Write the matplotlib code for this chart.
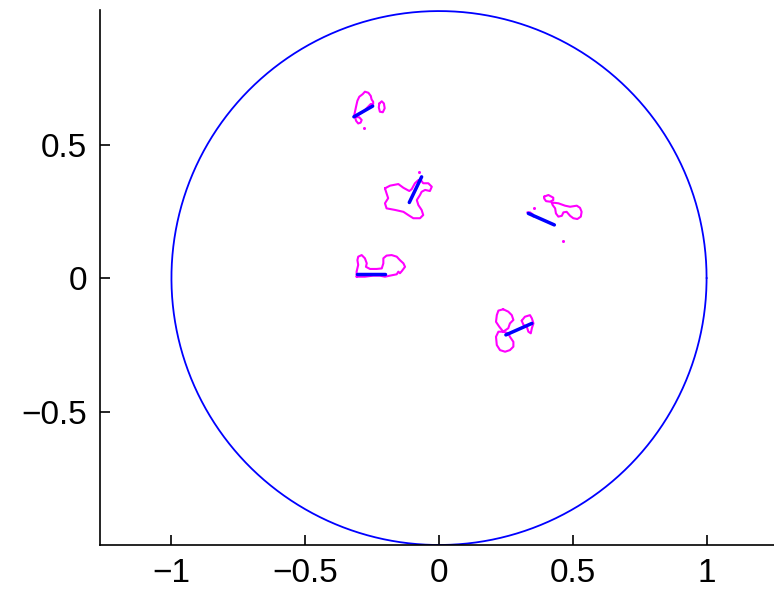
import matplotlib
matplotlib.use("Agg")
import matplotlib.pyplot as plt
import numpy as np

# Unit circle
circle_radius = 1.0

# Magenta contour curves (data coordinates)
contour_1a_x = [-0.318, -0.314, -0.310, -0.305, -0.298, -0.285, -0.277, -0.264, -0.255, -0.252, -0.246, -0.246, -0.255, -0.283, -0.314, -0.310, -0.302, -0.293, -0.289, -0.298, -0.314]
contour_1a_y = [0.604, 0.623, 0.642, 0.664, 0.679, 0.689, 0.698, 0.694, 0.682, 0.669, 0.660, 0.652, 0.652, 0.623, 0.604, 0.589, 0.579, 0.582, 0.592, 0.602, 0.604]
contour_1b_x = [-0.223, -0.214, -0.206, -0.203, -0.210, -0.221, -0.225, -0.223]
contour_1b_y = [0.654, 0.662, 0.654, 0.636, 0.621, 0.623, 0.639, 0.654]

contour_2_x = [-0.202, -0.183, -0.152, -0.133, -0.111, -0.102, -0.090, -0.077, -0.068, -0.059, -0.040, -0.027, -0.034, -0.052, -0.065, -0.071, -0.083, -0.077, -0.065, -0.059, -0.071, -0.096, -0.115, -0.133, -0.164, -0.196, -0.202, -0.190, -0.196, -0.202]
contour_2_y = [0.336, 0.346, 0.352, 0.338, 0.326, 0.333, 0.355, 0.367, 0.367, 0.355, 0.355, 0.342, 0.326, 0.330, 0.323, 0.311, 0.292, 0.273, 0.255, 0.236, 0.224, 0.224, 0.236, 0.248, 0.255, 0.261, 0.280, 0.299, 0.317, 0.336]

contour_3a_x = [0.393, 0.409, 0.427, 0.427, 0.415, 0.400, 0.393, 0.393]
contour_3a_y = [0.305, 0.311, 0.301, 0.292, 0.286, 0.288, 0.298, 0.305]
contour_3b_x = [0.421, 0.446, 0.471, 0.490, 0.515, 0.527, 0.533, 0.530, 0.517, 0.502, 0.490, 0.477, 0.465, 0.459, 0.446, 0.437, 0.434, 0.425, 0.421]
contour_3b_y = [0.283, 0.280, 0.271, 0.267, 0.271, 0.263, 0.248, 0.230, 0.221, 0.224, 0.233, 0.248, 0.246, 0.233, 0.230, 0.242, 0.261, 0.273, 0.283]
contour_3c_x = [0.330, 0.340, 0.350, 0.353]
contour_3c_y = [0.246, 0.246, 0.239, 0.230]

contour_4_x = [-0.308, -0.308, -0.302, -0.305, -0.302, -0.289, -0.277, -0.270, -0.273, -0.258, -0.233, -0.214, -0.208, -0.208, -0.196, -0.177, -0.158, -0.146, -0.133, -0.127, -0.139, -0.146, -0.152, -0.158, -0.183, -0.202, -0.221, -0.246, -0.277, -0.308]
contour_4_y = [0.005, 0.024, 0.049, 0.067, 0.080, 0.086, 0.074, 0.055, 0.042, 0.034, 0.034, 0.036, 0.055, 0.074, 0.084, 0.086, 0.080, 0.067, 0.055, 0.042, 0.026, 0.018, 0.024, 0.014, 0.009, 0.005, 0.009, 0.009, 0.005, 0.005]

contour_5a_x = [0.240, 0.259, 0.272, 0.278, 0.265, 0.259, 0.240, 0.225, 0.213, 0.216, 0.222, 0.240]
contour_5a_y = [-0.117, -0.126, -0.139, -0.157, -0.170, -0.188, -0.201, -0.182, -0.164, -0.139, -0.122, -0.117]
contour_5b_x = [0.240, 0.222, 0.213, 0.216, 0.228, 0.247, 0.265, 0.278, 0.278, 0.265, 0.259, 0.240]
contour_5b_y = [-0.201, -0.201, -0.220, -0.251, -0.270, -0.276, -0.270, -0.257, -0.239, -0.220, -0.207, -0.201]
contour_5c_x = [0.309, 0.321, 0.340, 0.347, 0.353, 0.347, 0.343, 0.334, 0.328, 0.316, 0.309]
contour_5c_y = [-0.160, -0.145, -0.139, -0.151, -0.170, -0.188, -0.207, -0.201, -0.182, -0.176, -0.160]

# Isolated magenta dots
dots_x = [-0.280, -0.074, 0.355, 0.462]
dots_y = [0.561, 0.396, 0.263, 0.139]

# Blue segments (start x, start y, end x, end y)
seg_x0 = [-0.318, -0.111, 0.334, -0.308, 0.250]
seg_y0 = [0.604, 0.283, 0.242, 0.014, -0.213]
seg_x1 = [-0.248, -0.065, 0.431, -0.202, 0.347]
seg_y1 = [0.644, 0.379, 0.199, 0.014, -0.170]

xticks = [-1, -0.5, 0, 0.5, 1]
yticks = [-0.5, 0, 0.5]
xtick_labels = ['\u22121', '\u22120.5', '0', '0.5', '1']
ytick_labels = ['\u22120.5', '0', '0.5']

plt.rcParams['font.family'] = ['Liberation Sans', 'DejaVu Sans']
fig = plt.figure(figsize=(7.74, 6.0), dpi=100)
ax = fig.add_axes([100/774, 55/600, 674/774, 535/600])

t = np.linspace(0, 2*np.pi, 400)
ax.plot(circle_radius*np.cos(t), circle_radius*np.sin(t), color='#0000ff', lw=1.3,
        solid_capstyle='round', solid_joinstyle='round')

mag = '#ff00ff'
contours = [(contour_1a_x, contour_1a_y), (contour_1b_x, contour_1b_y),
            (contour_2_x, contour_2_y),
            (contour_3a_x, contour_3a_y), (contour_3b_x, contour_3b_y), (contour_3c_x, contour_3c_y),
            (contour_4_x, contour_4_y),
            (contour_5a_x, contour_5a_y), (contour_5b_x, contour_5b_y), (contour_5c_x, contour_5c_y)]
for cx, cy in contours:
    ax.plot(cx, cy, color=mag, lw=1.5, solid_joinstyle='round', solid_capstyle='round')
ax.plot(dots_x, dots_y, 'o', color=mag, ms=2.2, mec='none')

for x0, y0, x1, y1 in zip(seg_x0, seg_y0, seg_x1, seg_y1):
    ax.plot([x0, x1], [y0, y1], color='#0000ff', lw=2.5, solid_capstyle='round')

ax.set_xlim(-1.267, 1.252)
ax.set_ylim(-1.0, 1.004)
ax.set_xticks(xticks)
ax.set_xticklabels(xtick_labels)
ax.set_yticks(yticks)
ax.set_yticklabels(ytick_labels)
ax.tick_params(direction='in', length=7, width=1.2, labelsize=24)
ax.tick_params(axis='x', pad=9)
ax.tick_params(axis='y', pad=9)
for s in ['top', 'right']:
    ax.spines[s].set_visible(False)
for s in ['left', 'bottom']:
    ax.spines[s].set_linewidth(1.2)

fig.savefig('out.png', dpi=100)
